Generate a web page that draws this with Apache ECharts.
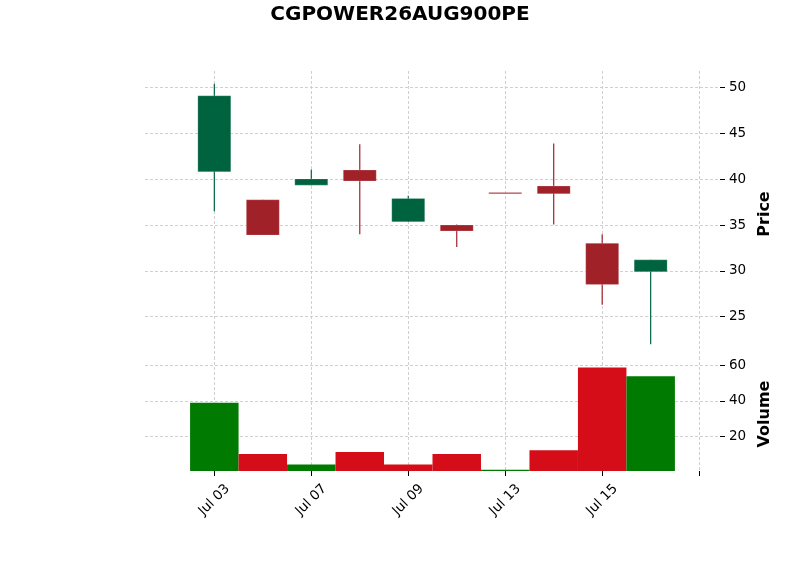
<!DOCTYPE html>
<html>
<head>
<meta charset="utf-8">
<script src="https://cdn.jsdelivr.net/npm/echarts@6/dist/echarts.min.js"></script>
<style>
html,body{margin:0;padding:0;background:#fff;}
#chart{width:800px;height:575px;}
</style>
</head>
<body>
<div id="chart"></div>
<script>
// ---- data ----
var dates   = ['Jul 03','Jul 04','Jul 07','Jul 08','Jul 09','Jul 10','Jul 13','Jul 14','Jul 15','Jul 16'];
var opens   = [40.8, 37.75, 39.35, 41.0, 35.35, 35.0, 38.55, 39.25, 33.0, 29.9];
var closes  = [49.1, 33.9, 40.03, 39.8, 37.9, 34.35, 38.55, 38.4, 28.5, 31.2];
var lows    = [36.5, 33.9, 39.35, 34.0, 35.35, 32.6, 38.55, 35.05, 26.3, 22.0];
var highs   = [50.4, 37.75, 41.05, 43.8, 38.2, 35.05, 38.55, 43.9, 34.0, 31.2];
var volumes = [39, 10, 4, 11, 4, 10, 1, 12, 59, 54];
var xTickPositions = [0, 2, 4, 6, 8, 10];
var xTickLabels = ['Jul 03', 'Jul 07', 'Jul 09', 'Jul 13', 'Jul 15', ''];
var priceTicks = [25, 30, 35, 40, 45, 50];
var volumeTicks = [20, 40, 60];

var UP = '#006340', DOWN = '#a02128';
var VUP = '#007a00', VDOWN = '#d50d18';

var candleData = dates.map(function (d, i) { return [i, opens[i], closes[i], lows[i], highs[i]]; });
var volData = dates.map(function (d, i) {
  var up = i === 0 ? closes[i] >= opens[i] : closes[i] >= closes[i - 1];
  return [i, volumes[i], up ? 1 : 0];
});

var X_MIN = -1.43, X_MAX = 10.43;
var P_MIN = 20.6, P_MAX = 51.8;
var V_MIN = 0.3, V_MAX = 64.9;

var gridLine = { show: true, lineStyle: { color: '#c4c4c4', type: [3, 2], width: 0.8 } };
var font = 'DejaVu Sans';
var tickFont = 13.5;

var chart = echarts.init(document.getElementById('chart'), null, { renderer: 'canvas' });
chart.setOption({
  animation: false,
  backgroundColor: '#fff',
  title: {
    text: 'CGPOWER26AUG900PE', left: 'center', top: 0,
    textStyle: { fontFamily: font, fontWeight: 'bold', fontSize: 20, color: '#000' }
  },
  grid: [
    { left: 145, right: 80, top: 71, height: 286 },
    { left: 145, right: 80, top: 357, height: 114 }
  ],
  xAxis: [
    {
      type: 'value', gridIndex: 0, min: X_MIN, max: X_MAX,
      axisLine: { show: false, onZero: false },
      axisTick: { show: false, customValues: xTickPositions },
      axisLabel: { show: false, customValues: xTickPositions },
      splitLine: gridLine
    },
    {
      type: 'value', gridIndex: 1, min: X_MIN, max: X_MAX,
      axisLine: { show: false, onZero: false },
      axisTick: { show: true, length: 5, customValues: xTickPositions, lineStyle: { color: '#000', width: 1 } },
      axisLabel: {
        show: true, customValues: xTickPositions, rotate: 45, margin: 29,
        align: 'center', verticalAlign: 'middle',
        fontFamily: font, fontSize: tickFont, color: '#000',
        formatter: function (v) { var k = xTickPositions.indexOf(Math.round(v)); return k >= 0 ? xTickLabels[k] : ''; }
      },
      splitLine: gridLine
    }
  ],
  yAxis: [
    {
      type: 'value', gridIndex: 0, position: 'right', min: P_MIN, max: P_MAX,
      name: 'Price', nameLocation: 'middle', nameRotate: 90, nameGap: 33,
      nameTextStyle: { fontFamily: font, fontWeight: 'bold', fontSize: 16, color: '#000' },
      axisLine: { show: false, onZero: false },
      axisTick: { show: true, length: 5, customValues: priceTicks, lineStyle: { color: '#000', width: 1 } },
      axisLabel: { customValues: priceTicks, margin: 9, fontFamily: font, fontSize: tickFont, color: '#000' },
      splitLine: gridLine
    },
    {
      type: 'value', gridIndex: 1, position: 'right', min: V_MIN, max: V_MAX,
      name: 'Volume', nameLocation: 'middle', nameRotate: 90, nameGap: 33,
      nameTextStyle: { fontFamily: font, fontWeight: 'bold', fontSize: 16, color: '#000' },
      axisLine: { show: false, onZero: false },
      axisTick: { show: true, length: 5, customValues: volumeTicks, lineStyle: { color: '#000', width: 1 } },
      axisLabel: { customValues: volumeTicks, margin: 9, fontFamily: font, fontSize: tickFont, color: '#000' },
      splitLine: gridLine
    }
  ],
  series: [
    {
      type: 'custom', xAxisIndex: 0, yAxisIndex: 0, data: candleData,
      clip: true,
      renderItem: function (params, api) {
        var x = api.value(0), o = api.value(1), c = api.value(2), l = api.value(3), h = api.value(4);
        var color = c > o ? UP : DOWN;
        var pO = api.coord([x, o]), pC = api.coord([x, c]);
        var pL = api.coord([x, l]), pH = api.coord([x, h]);
        var w = api.size([0.68, 0])[0];
        var top = Math.min(pO[1], pC[1]);
        var bh = Math.max(Math.abs(pO[1] - pC[1]), 1.2);
        return {
          type: 'group',
          children: [
            { type: 'line', shape: { x1: pH[0], y1: pH[1], x2: pL[0], y2: pL[1] }, style: { stroke: color, lineWidth: 1.2 } },
            { type: 'rect', shape: { x: pO[0] - w / 2, y: top, width: w, height: bh }, style: { fill: color, stroke: 'rgba(255,255,255,0.35)', lineWidth: 0.6 } }
          ]
        };
      }
    },
    {
      type: 'custom', xAxisIndex: 1, yAxisIndex: 1, data: volData,
      clip: true,
      renderItem: function (params, api) {
        var x = api.value(0), v = api.value(1), up = api.value(2);
        var pTop = api.coord([x, v]), pBot = api.coord([x, V_MIN]);
        var w = api.size([1, 0])[0];
        return {
          type: 'rect',
          shape: { x: pTop[0] - w / 2, y: pTop[1], width: w, height: pBot[1] - pTop[1] },
          style: { fill: up ? VUP : VDOWN }
        };
      }
    }
  ]
});
</script>
</body>
</html>
